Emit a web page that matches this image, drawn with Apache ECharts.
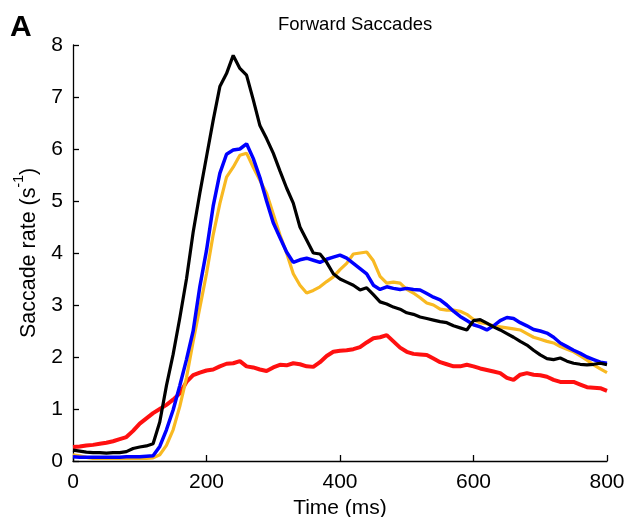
<!DOCTYPE html>
<html>
<head>
<meta charset="utf-8">
<script src="https://cdn.jsdelivr.net/npm/echarts@6/dist/echarts.min.js"></script>
<style>html,body{margin:0;padding:0;background:#fff}#c{width:626px;height:517px}</style>
</head>
<body>
<div id="c"></div>
<script>
var times = [0,10,20,30,40,50,60,70,80,90,100,110,120,130,140,150,160,170,180,190,200,210,220,230,240,250,260,270,280,290,300,310,320,330,340,350,360,370,380,390,400,410,420,430,440,450,460,470,480,490,500,510,520,530,540,550,560,570,580,590,600,610,620,630,640,650,660,670,680,690,700,710,720,730,740,750,760,770,780,790,800];

var blackVals = [0.21,0.19,0.17,0.16,0.16,0.15,0.16,0.16,0.18,0.24,0.27,0.29,0.33,0.75,1.45,2.05,2.75,3.5,4.4,5.15,5.85,6.55,7.2,7.45,7.8,7.55,7.42,6.95,6.45,6.2,5.92,5.58,5.25,4.96,4.5,4.25,4.0,3.98,3.82,3.6,3.5,3.44,3.38,3.29,3.33,3.2,3.06,3.02,2.96,2.92,2.85,2.82,2.77,2.74,2.71,2.68,2.66,2.6,2.56,2.52,2.7,2.72,2.65,2.58,2.52,2.45,2.38,2.3,2.23,2.13,2.04,1.97,1.95,1.98,1.92,1.88,1.86,1.85,1.86,1.88,1.85];

var blueVals = [0.08,0.07,0.07,0.07,0.07,0.07,0.07,0.07,0.08,0.08,0.08,0.09,0.1,0.28,0.6,0.98,1.45,1.95,2.5,3.35,4.05,4.9,5.53,5.9,5.98,6.0,6.1,5.82,5.45,5.0,4.58,4.3,4.02,3.82,3.87,3.9,3.86,3.82,3.88,3.92,3.96,3.9,3.8,3.7,3.6,3.38,3.3,3.35,3.32,3.3,3.32,3.3,3.29,3.22,3.15,3.1,3.0,2.88,2.78,2.7,2.62,2.58,2.52,2.6,2.7,2.76,2.74,2.66,2.6,2.53,2.5,2.46,2.38,2.27,2.2,2.13,2.07,2.0,1.95,1.9,1.88];

var orangeVals = [0.12,0.1,0.07,0.05,0.05,0.05,0.05,0.05,0.05,0.05,0.05,0.05,0.06,0.12,0.3,0.6,1.05,1.6,2.3,2.95,3.6,4.35,4.95,5.46,5.65,5.88,5.92,5.65,5.4,5.15,4.75,4.35,4.0,3.6,3.38,3.23,3.28,3.35,3.45,3.54,3.68,3.8,3.98,4.0,4.02,3.85,3.55,3.42,3.44,3.42,3.3,3.23,3.14,3.04,3.0,2.92,2.9,2.9,2.88,2.82,2.72,2.66,2.64,2.6,2.58,2.56,2.54,2.52,2.45,2.38,2.34,2.3,2.27,2.2,2.15,2.1,2.02,1.94,1.85,1.77,1.7];

var redVals = [0.27,0.28,0.3,0.31,0.33,0.35,0.38,0.42,0.46,0.58,0.72,0.82,0.92,1.0,1.08,1.18,1.3,1.52,1.65,1.7,1.74,1.76,1.82,1.87,1.88,1.92,1.82,1.8,1.76,1.73,1.8,1.85,1.84,1.88,1.86,1.82,1.81,1.9,2.02,2.1,2.12,2.13,2.15,2.19,2.28,2.36,2.38,2.42,2.3,2.18,2.1,2.06,2.05,2.04,1.97,1.9,1.86,1.82,1.82,1.85,1.82,1.78,1.75,1.72,1.69,1.6,1.56,1.66,1.69,1.66,1.65,1.62,1.56,1.52,1.52,1.52,1.47,1.42,1.41,1.4,1.35];

var xTicks = [0,200,400,600,800];
var yTicks = [0,1,2,3,4,5,6,7,8];
var titleText = 'Forward Saccades';
var panelLabel = 'A';

function pairs(vals){ return times.map(function(t,i){ return [t, vals[i]]; }); }

var chart = echarts.init(document.getElementById('c'), null, {renderer:'canvas'});
var font = 'Liberation Sans, Arial, sans-serif';
var axisCommon = {
  axisLine:{show:true, lineStyle:{color:'#000', width:1.3}},
  axisTick:{show:true, inside:true, length:6, lineStyle:{color:'#000', width:1.3}},
  splitLine:{show:false},
  axisLabel:{color:'#000', fontSize:21, fontFamily:font}
};
chart.setOption({
  animation:false,
  backgroundColor:'#fff',
  title:{text:titleText, left:273, top:10, textStyle:{fontSize:18.5, fontWeight:'normal', color:'#000', fontFamily:font}},
  graphic:[{type:'text', left:10, top:13, style:{text:panelLabel, font:'bold 30px Liberation Sans, Arial, sans-serif', fill:'#000'}}],
  grid:{left:73, right:19, top:45, bottom:56, containLabel:false, outerBoundsMode:'none'},
  xAxis:Object.assign({}, axisCommon, {
    type:'value', min:xTicks[0], max:xTicks[xTicks.length-1], interval:200,
    name:'Time (ms)', nameLocation:'middle', nameGap:33,
    nameTextStyle:{color:'#000', fontSize:21, fontFamily:font},
    axisLabel:{color:'#000', fontSize:21, fontFamily:font, margin:11}
  }),
  yAxis:Object.assign({}, axisCommon, {
    type:'value', min:yTicks[0], max:yTicks[yTicks.length-1], interval:1,
    name:'{a|Saccade rate (s}{s|-1}{a|)}', nameLocation:'middle', nameGap:30,
    nameTextStyle:{color:'#000', fontFamily:font, rich:{
      a:{fontSize:21.5, fontFamily:font, color:'#000', lineHeight:28, verticalAlign:'bottom'},
      s:{fontSize:14, fontFamily:font, color:'#000', lineHeight:28, verticalAlign:'top'}
    }},
    axisLabel:{color:'#000', fontSize:21, fontFamily:font, margin:10}
  }),
  series:[
    {name:'red', type:'line', data:pairs(redVals), showSymbol:false, lineStyle:{color:'#ff1010', width:4}, z:1},
    {name:'orange', type:'line', data:pairs(orangeVals), showSymbol:false, lineStyle:{color:'#f8b922', width:3.2}, z:2},
    {name:'blue', type:'line', data:pairs(blueVals), showSymbol:false, lineStyle:{color:'#0000ff', width:3.5}, z:3},
    {name:'black', type:'line', data:pairs(blackVals), showSymbol:false, lineStyle:{color:'#000', width:3.2}, z:4}
  ]
});
</script>
</body>
</html>
